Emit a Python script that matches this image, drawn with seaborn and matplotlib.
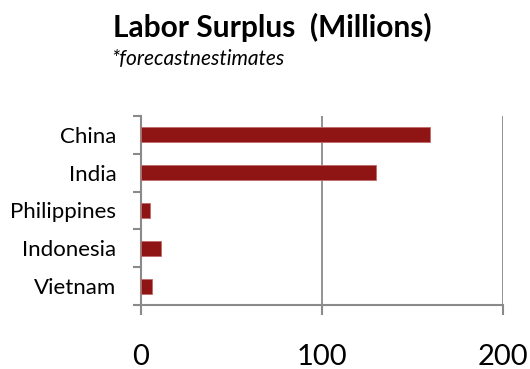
import matplotlib
matplotlib.use("Agg")
import matplotlib.pyplot as plt
import seaborn as sns
import pandas as pd
import numpy as np

# Labor surplus by country, in millions
countries = ["China", "India", "Philippines", "Indonesia", "Vietnam"]
surplus = [160, 130, 5, 11, 6]
x_ticks = [0, 100, 200]

title_text = "Labor Surplus  (Millions)"
subtitle_text = "*forecastnestimates"

sns.set_theme(style="white")
plt.rcParams["font.family"] = ["Lato", "DejaVu Sans"]

df = pd.DataFrame({"country": countries, "surplus": surplus})

fig = plt.figure(figsize=(5.30, 3.69), dpi=100)
ax = fig.add_axes([0.2655, 0.1726, 0.9485 - 0.2655, 0.6865 - 0.1726])

bar_color = "#8F1414"
sns.barplot(data=df, x="surplus", y="country", orient="h", order=countries,
            color=bar_color, saturation=1, width=0.4,
            edgecolor="#C06A6A", linewidth=0.6, ax=ax, zorder=3)

grey = "#8A8A8A"
ax.set_xlim(0, 200)
ax.set_ylim(len(countries) - 0.5, -0.5)
ax.set_xticks(x_ticks)
ax.set_xticklabels([str(v) for v in x_ticks])
ax.xaxis.grid(True, color=grey, linewidth=1.3, zorder=0)
ax.yaxis.grid(False)

for side in ("top", "right"):
    ax.spines[side].set_visible(False)
for side in ("left", "bottom"):
    ax.spines[side].set_color(grey)
    ax.spines[side].set_linewidth(1.5)

# category separators on the y axis
ax.set_yticks(np.arange(-0.5, len(countries), 1.0), minor=True)
ax.tick_params(axis="y", which="major", length=0, pad=17.5, labelsize=16, labelcolor="black")
ax.tick_params(axis="y", which="minor", left=True, length=5.8, width=1.5, color=grey)
ax.tick_params(axis="x", which="major", bottom=True, length=7.2, width=1.5, color=grey,
               pad=21, labelsize=21, labelcolor="black")

ax.set_xlabel("")
ax.set_ylabel("")

fig.text(0.5145, 0.925, title_text, ha="center", va="center",
         fontsize=21.5, fontweight="bold", color="black")
fig.text(0.209, 0.84, subtitle_text, ha="left", va="center",
         fontsize=15, fontstyle="italic", color="black")

fig.savefig("out.png", dpi=100)
